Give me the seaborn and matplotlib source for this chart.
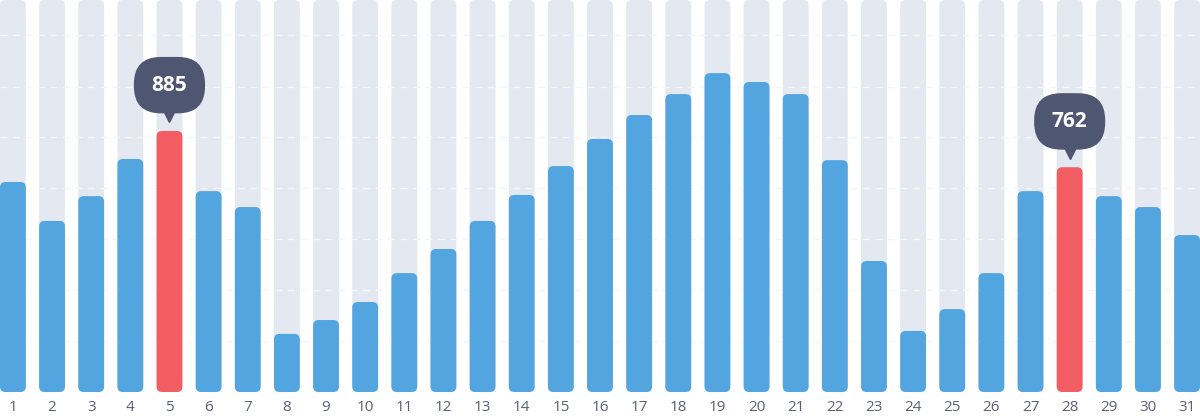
import matplotlib
matplotlib.use('Agg')
import matplotlib.pyplot as plt
from matplotlib.patches import FancyBboxPatch
import seaborn as sns
import pandas as pd

days = [str(d) for d in range(1, 32)]
values = [712, 580, 664, 790, 885, 681, 627, 197, 244, 305, 403, 485, 580, 668, 766,
          858, 939, 1010, 1081, 1051, 1010, 786, 444, 207, 281, 403, 681, 762, 664, 627, 532]
highlight = ['5', '28']
bg_max = 1329
grid_vals = [173, 346, 519, 692, 864, 1034, 1210]

df = pd.DataFrame({'day': days, 'value': values})
df['bg'] = bg_max

sns.set_style('white')
plt.rcParams['font.family'] = ['Open Sans', 'DejaVu Sans']

fig = plt.figure(figsize=(12, 4.2), dpi=100)
ax = fig.add_axes([0, 28 / 420, 1, 392 / 420])

sns.barplot(data=df, x='day', y='bg', color='#e3e8f1', width=0.66, saturation=1, ax=ax, zorder=1)
n_bg = len(ax.patches)
colors = ['#f25c63' if d in highlight else '#52a5de' for d in days]
sns.barplot(data=df, x='day', y='value', hue='day', palette=colors, legend=False,
            width=0.66, saturation=1, ax=ax, zorder=3)

ax.set_xlim(-0.33, 30.33)
ax.set_ylim(0, bg_max)

# round the bar corners
aspect = (bg_max / 392) / (30.66 / 1200)
for p in list(ax.patches):
    x, y, w, h = p.get_x(), p.get_y(), p.get_width(), p.get_height()
    fb = FancyBboxPatch((x, y), w, h, boxstyle='round,pad=0,rounding_size=0.14',
                        mutation_aspect=aspect, facecolor=p.get_facecolor(),
                        edgecolor='none', zorder=p.get_zorder())
    p.remove()
    ax.add_patch(fb)

for g in grid_vals:
    ax.axhline(g, color='#f3f5f9', lw=1, ls=(0, (5, 4)), zorder=2)

for d in highlight:
    i = days.index(d)
    v = values[i]
    ax.annotate(str(v), (i, v), xytext=(0, 33), textcoords='offset points',
                ha='center', va='center', fontsize=15, fontweight='bold', color='white',
                bbox=dict(boxstyle='round,pad=0.85,rounding_size=1.3', fc='#4f5672', ec='none'),
                zorder=6)
    ax.annotate('', (i, v), xytext=(0, 0), textcoords='offset points')
    ax.plot([i], [v], marker='v', markersize=11, color='#4f5672', zorder=5,
            transform=ax.transData, clip_on=False,
            markevery=None)
    ax.lines[-1].set_transform(ax.transData + matplotlib.transforms.ScaledTranslation(0, 12 / 72, fig.dpi_scale_trans))

ax.set_xlabel('')
ax.set_ylabel('')
ax.set_yticks([])
ax.tick_params(axis='x', length=0, labelsize=11, labelcolor='#5a6178', pad=6)
for s in ax.spines.values():
    s.set_visible(False)

fig.savefig('out.png', dpi=100)
